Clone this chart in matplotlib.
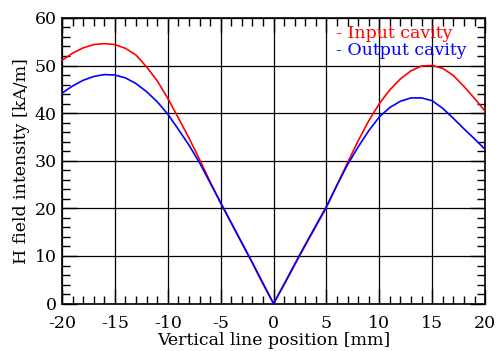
import numpy as np
import matplotlib.pyplot as plt
from matplotlib.ticker import MultipleLocator

# position along the vertical line [mm]
pos = list(range(-20, 21))

# input cavity H field [kA/m]
h_input = [51.1, 52.6, 53.7, 54.4, 54.6, 54.4, 53.6, 52.2, 49.7, 46.8,
           43.1, 39.0, 34.8, 30.3, 25.6, 21.1, 16.9, 12.7, 8.5, 4.1,
           0.0,
           4.0, 8.1, 12.2, 16.2, 20.2, 24.9, 29.6, 34.2, 38.4, 42.0,
           44.9, 47.2, 48.9, 49.9, 50.0, 49.4, 47.9, 45.6, 43.1, 40.4]

# output cavity H field [kA/m]
h_output = [44.2, 45.7, 46.9, 47.7, 48.1, 48.0, 47.4, 46.2, 44.5, 42.4,
            39.8, 36.6, 33.3, 29.6, 25.4, 21.2, 17.0, 12.8, 8.6, 4.3,
            0.0,
            4.1, 8.3, 12.4, 16.4, 20.4, 24.9, 29.2, 32.9, 36.3, 39.2,
            41.2, 42.5, 43.2, 43.2, 42.6, 41.0, 38.9, 36.7, 34.6, 32.4]

plt.rcParams['font.family'] = ['DejaVu Serif']
plt.rcParams['font.size'] = 12.5
plt.rcParams['axes.unicode_minus'] = False

fig = plt.figure(figsize=(4.96, 3.51), dpi=100)
ax = fig.add_axes([0.125, 0.135, 0.853, 0.814])

ax.plot(pos, h_input, color='red', lw=1.2, zorder=3)
ax.plot(pos, h_output, color='blue', lw=1.2, zorder=3)

ax.set_xlim(-20, 20)
ax.set_ylim(0, 60)
ax.xaxis.set_major_locator(MultipleLocator(5))
ax.xaxis.set_minor_locator(MultipleLocator(1))
ax.yaxis.set_major_locator(MultipleLocator(10))
ax.yaxis.set_minor_locator(MultipleLocator(2))
ax.tick_params(which='both', direction='in', top=True, right=True, width=1, color='black')
ax.tick_params(which='major', length=11)
ax.tick_params(which='minor', length=6)
ax.tick_params(axis='x', which='major', pad=8)
ax.tick_params(axis='y', which='major', pad=4)
ax.grid(True, which='major', color='black', lw=0.9)
for s in ax.spines.values():
    s.set_linewidth(1.2)

ax.set_xlabel('Vertical line position [mm]', labelpad=0)
ax.set_ylabel('H field intensity [kA/m]', labelpad=3)

ax.text(0.647, 0.945, '- Input cavity', color='red', transform=ax.transAxes,
        fontsize=12.5, va='center', zorder=4)
ax.text(0.647, 0.885, '- Output cavity', color='blue', transform=ax.transAxes,
        fontsize=12.5, va='center', zorder=4)

plt.savefig('out.png', dpi=100)
plt.close()
